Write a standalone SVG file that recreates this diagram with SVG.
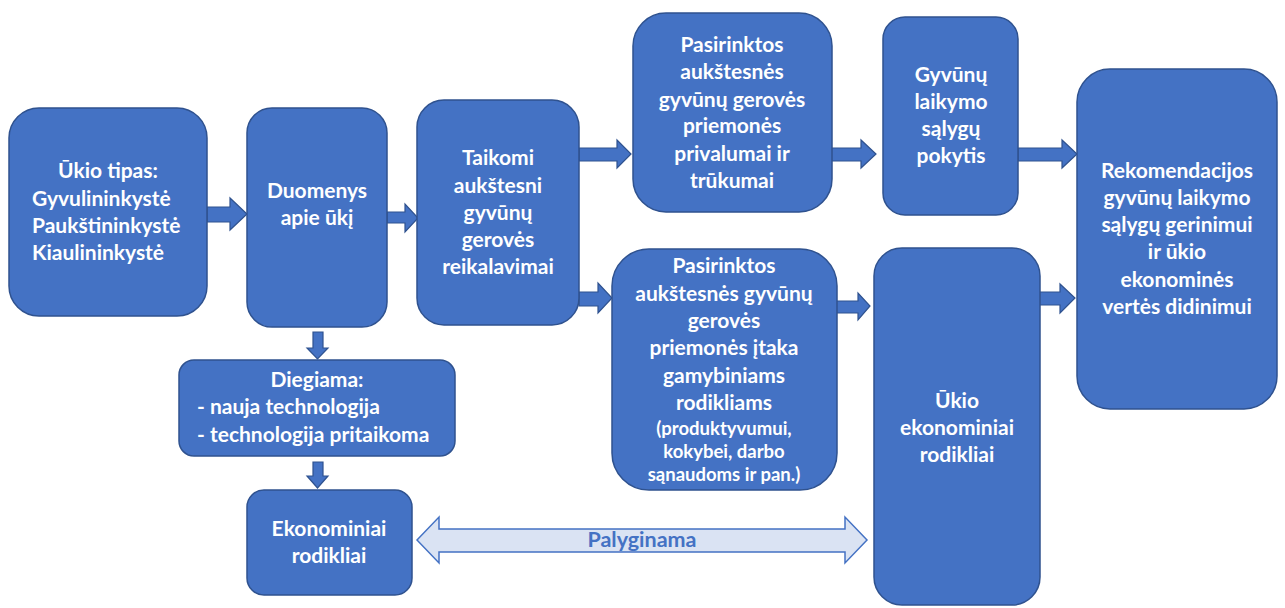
<svg xmlns="http://www.w3.org/2000/svg" width="1285" height="608" viewBox="0 0 1285 608">
<style>
.box{fill:#4472C4;stroke:#2F528F;stroke-width:1.5}
.arr{fill:#4472C4;stroke:#2F528F;stroke-width:1.2;stroke-linejoin:miter}
.t{font-family:Lato,"Open Sans","Liberation Sans",sans-serif;font-weight:bold;font-size:21px;fill:#ffffff}
.c{text-anchor:middle}
.s{font-size:18.5px}
.p{font-family:Lato,"Open Sans","Liberation Sans",sans-serif;font-weight:bold;font-size:21.5px;fill:#4472C4;text-anchor:middle}
</style>
<rect width="1285" height="608" fill="#ffffff"/>
<g id="connectors">
<polygon class="arr" points="207,207 230,207 230,198 247,214 230,230 230,222 207,222"/>
<polygon class="arr" points="387,212 405,212 405,204 418,218 405,232 405,223 387,223"/>
<polygon class="arr" points="579,148 617,148 617,140 631,154 617,168 617,161 579,161"/>
<polygon class="arr" points="579,292 598,292 598,283 612,298 598,313 598,306 579,306"/>
<polygon class="arr" points="823,148 861,148 861,140 876,154 861,168 861,161 823,161"/>
<polygon class="arr" points="1018,148 1062,148 1062,140 1077,154 1062,168 1062,161 1018,161"/>
<polygon class="arr" points="832,301 858,301 858,293 870,306 858,320 858,313 832,313"/>
<polygon class="arr" points="1034,292 1060,292 1060,284 1075,298 1060,313 1060,305 1034,305"/>
<polygon class="arr" points="313,332 323,332 323,348 328,348 317.5,359 307,348 313,348"/>
<polygon class="arr" points="313,462 323,462 323,476 328,476 317.5,488 307,476 313,476"/>
<polygon points="417,540 439,517 439,529 845,529 845,517 867,540 845,563 845,552 439,552 439,563" fill="#DAE3F3" stroke="#4472C4" stroke-width="1.5"/>
<text class="p" x="642" y="547">Palyginama</text>
</g>
<g id="n-ukio-tipas">
<rect class="box" x="9" y="108" width="198" height="208" rx="30"/>
<text class="t" x="58" y="178">Ūkio tipas:</text>
<text class="t" x="32" y="206">Gyvulininkystė</text>
<text class="t" x="32" y="233">Paukštininkystė</text>
<text class="t" x="32" y="260">Kiaulininkystė</text>
</g>
<g id="n-duomenys">
<rect class="box" x="247" y="108" width="140" height="219" rx="25"/>
<text class="t c" x="317" y="198">Duomenys</text>
<text class="t c" x="317" y="225">apie ūkį</text>
</g>
<g id="n-taikomi">
<rect class="box" x="417" y="100" width="162" height="225" rx="27"/>
<text class="t c" x="498" y="165">Taikomi</text>
<text class="t c" x="498" y="193">aukštesni</text>
<text class="t c" x="498" y="220">gyvūnų</text>
<text class="t c" x="498" y="247">gerovės</text>
<text class="t c" x="498" y="274">reikalavimai</text>
</g>
<g id="n-privalumai">
<rect class="box" x="633" y="13" width="199" height="199" rx="33"/>
<text class="t c" x="732" y="52">Pasirinktos</text>
<text class="t c" x="732" y="79">aukštesnės</text>
<text class="t c" x="732" y="107">gyvūnų gerovės</text>
<text class="t c" x="732" y="133">priemonės</text>
<text class="t c" x="732" y="161">privalumai ir</text>
<text class="t c" x="732" y="188">trūkumai</text>
</g>
<g id="n-itaka">
<rect class="box" x="612" y="249" width="225" height="241" rx="37"/>
<text class="t c" x="724" y="273">Pasirinktos</text>
<text class="t c" x="724" y="301">aukštesnės gyvūnų</text>
<text class="t c" x="724" y="328">gerovės</text>
<text class="t c" x="724" y="355">priemonės įtaka</text>
<text class="t c" x="724" y="383">gamybiniams</text>
<text class="t c" x="724" y="410">rodikliams</text>
<text class="t c s" x="724" y="435">(produktyvumui,</text>
<text class="t c s" x="724" y="458">kokybei, darbo</text>
<text class="t c s" x="724" y="481">sąnaudoms ir pan.)</text>
</g>
<g id="n-pokytis">
<rect class="box" x="883" y="17" width="135" height="198" rx="22"/>
<text class="t c" x="951" y="82">Gyvūnų</text>
<text class="t c" x="951" y="109">laikymo</text>
<text class="t c" x="951" y="136">sąlygų</text>
<text class="t c" x="951" y="163">pokytis</text>
</g>
<g id="n-rekomendacijos">
<rect class="box" x="1077" y="69" width="200" height="340" rx="33"/>
<text class="t c" x="1177" y="178">Rekomendacijos</text>
<text class="t c" x="1177" y="205">gyvūnų laikymo</text>
<text class="t c" x="1177" y="232">sąlygų gerinimui</text>
<text class="t c" x="1177" y="259">ir ūkio</text>
<text class="t c" x="1177" y="287">ekonominės</text>
<text class="t c" x="1177" y="314">vertės didinimui</text>
</g>
<g id="n-ukio-rodikliai">
<rect class="box" x="874" y="248" width="166" height="357" rx="28"/>
<text class="t c" x="957" y="408">Ūkio</text>
<text class="t c" x="957" y="435">ekonominiai</text>
<text class="t c" x="957" y="462">rodikliai</text>
</g>
<g id="n-diegiama">
<rect class="box" x="179" y="360" width="276" height="96" rx="15"/>
<text class="t c" x="317" y="387">Diegiama:</text>
<text class="t" x="197" y="414">- nauja technologija</text>
<text class="t" x="197" y="442">- technologija pritaikoma</text>
</g>
<g id="n-ekonominiai">
<rect class="box" x="247" y="490" width="165" height="105" rx="17"/>
<text class="t c" x="329" y="536">Ekonominiai</text>
<text class="t c" x="329" y="563">rodikliai</text>
</g>
</svg>
